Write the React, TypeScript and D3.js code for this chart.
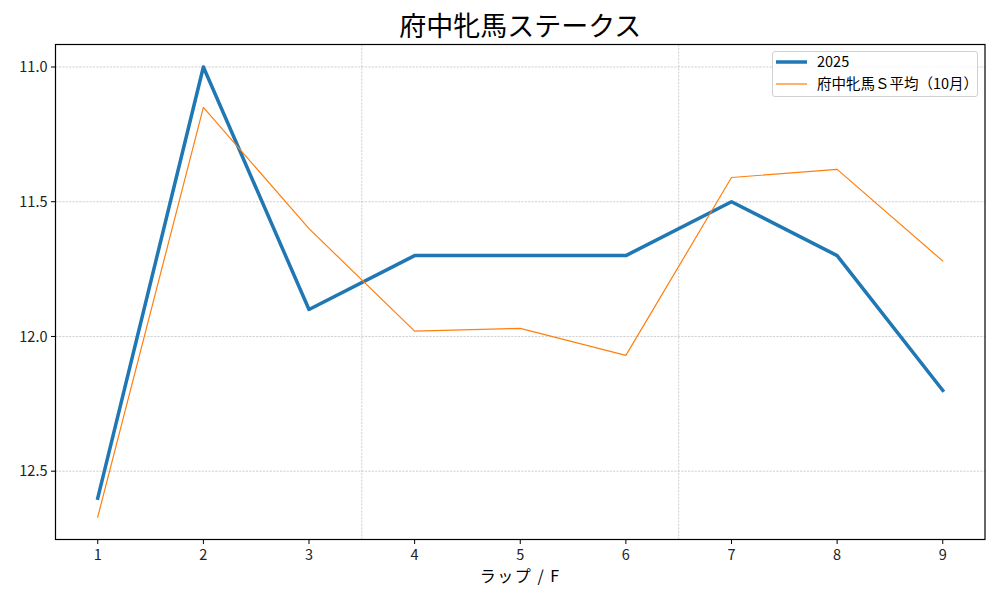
import React from "react";
import * as d3 from "d3";

const laps = [1, 2, 3, 4, 5, 6, 7, 8, 9];
const series2025 = [12.6, 11.0, 11.9, 11.7, 11.7, 11.7, 11.5, 11.7, 12.2];
const seriesAvg = [12.67, 11.15, 11.6, 11.98, 11.97, 12.07, 11.41, 11.38, 11.72];
const yTicks = [11.0, 11.5, 12.0, 12.5];
const xGridLines = [3.5, 6.5];
const titleText = "府中牝馬ステークス";
const xLabelText = "ラップ / F";
const legendLabels = ["2025", "府中牝馬Ｓ平均（10月）"];

const W = 1000;
const H = 600;
const M = { left: 55.5, right: 985, top: 44.5, bottom: 539.5 };
const FONT = "'Noto Sans CJK JP', 'DejaVu Sans', sans-serif";

export default function App() {
  const all = [...series2025, ...seriesAvg];
  const yMin = d3.min(all) as number;
  const yMax = d3.max(all) as number;
  const pad = (yMax - yMin) * 0.05;
  const x = d3.scaleLinear().domain([0.6, 9.4]).range([M.left, M.right]);
  const y = d3.scaleLinear().domain([yMin - pad, yMax + pad]).range([M.top, M.bottom]);
  const line = d3
    .line<number>()
    .x((_, i) => x(laps[i]))
    .y((d) => y(d));

  return (
    <div style={{ position: "fixed", left: 0, top: 0 }}>
      <svg width={W} height={H} style={{ display: "block", background: "#fff" }}>
        <rect x={0} y={0} width={W} height={H} fill="#fff" />
        {/* grid */}
        {yTicks.map((t) => (
          <line key={"gy" + t} x1={M.left} x2={M.right} y1={y(t)} y2={y(t)} stroke="#b0b0b0" strokeWidth={0.6} strokeDasharray="2.2,1.2" />
        ))}
        {xGridLines.map((t) => (
          <line key={"gx" + t} x1={x(t)} x2={x(t)} y1={M.top} y2={M.bottom} stroke="#b0b0b0" strokeWidth={0.6} strokeDasharray="2.2,1.2" />
        ))}
        {/* lines */}
        <path d={line(series2025) || ""} fill="none" stroke="#1f77b4" strokeWidth={3.5} strokeLinejoin="round" strokeLinecap="square" />
        <path d={line(seriesAvg) || ""} fill="none" stroke="#ff7f0e" strokeWidth={1.2} strokeLinejoin="round" strokeLinecap="square" />
        {/* frame */}
        <rect x={M.left} y={M.top} width={M.right - M.left} height={M.bottom - M.top} fill="none" stroke="#000" strokeWidth={1.2} />
        {/* y ticks */}
        {yTicks.map((t) => (
          <g key={"yt" + t}>
            <line x1={M.left - 4.5} x2={M.left} y1={y(t)} y2={y(t)} stroke="#000" strokeWidth={1} />
            <text x={M.left - 8} y={y(t)} dy="0.35em" textAnchor="end" fontSize={14.5} fontFamily={FONT} fill="#222">
              {t.toFixed(1)}
            </text>
          </g>
        ))}
        {/* x ticks */}
        {laps.map((t) => (
          <g key={"xt" + t}>
            <line x1={x(t)} x2={x(t)} y1={M.bottom} y2={M.bottom + 4.5} stroke="#000" strokeWidth={1} />
            <text x={x(t)} y={M.bottom + 20} textAnchor="middle" fontSize={14.5} fontFamily={FONT} fill="#222">
              {t}
            </text>
          </g>
        ))}
        {/* labels */}
        <text x={(M.left + M.right) / 2} y={36} textAnchor="middle" fontSize={27} fontFamily={FONT} fill="#000">
          {titleText}
        </text>
        <text x={(M.left + M.right) / 2} y={582} textAnchor="middle" fontSize={16} letterSpacing={1.5} fontFamily={FONT} fill="#000">
          {xLabelText}
        </text>
        {/* legend */}
        <g>
          <rect x={772.5} y={51.5} width={205} height={45} rx={2.5} fill="#fff" fillOpacity={0.8} stroke="#d0d0d0" strokeWidth={1} />
          <line x1={776} x2={807} y1={62} y2={62} stroke="#1f77b4" strokeWidth={3.5} />
          <line x1={776} x2={807} y1={84} y2={84} stroke="#ff7f0e" strokeWidth={1.2} />
          <text x={817} y={62} dy="0.35em" fontSize={14.5} fontFamily={FONT} fill="#000">
            {legendLabels[0]}
          </text>
          <text x={817} y={84} dy="0.35em" fontSize={14.5} fontFamily={FONT} fill="#000">
            {legendLabels[1]}
          </text>
        </g>
      </svg>
    </div>
  );
}
